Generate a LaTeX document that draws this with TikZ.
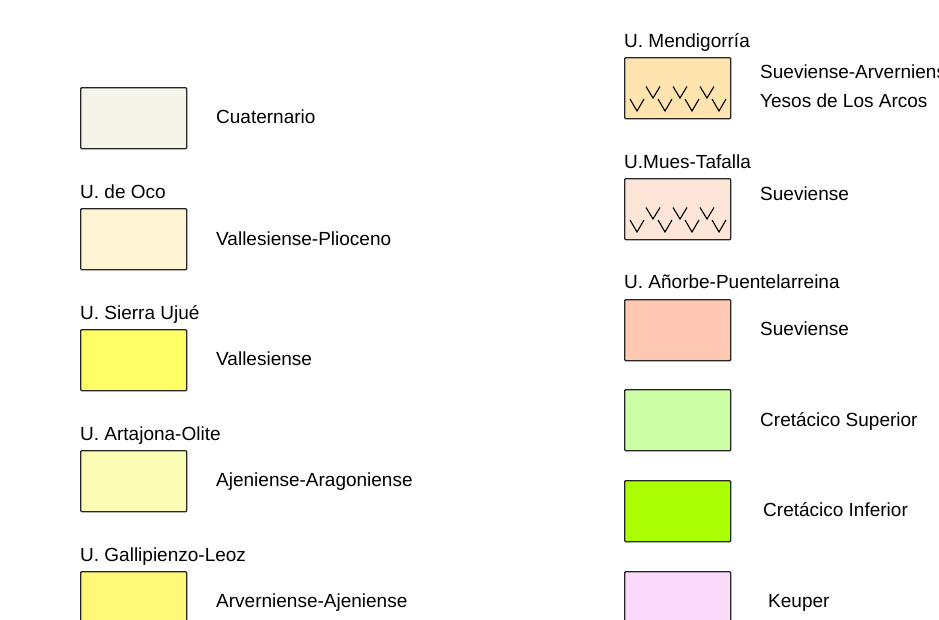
\documentclass[tikz,border=0pt]{standalone}
\usepackage{fontspec}
\setmainfont{Liberation Sans}
\definecolor{cQua}{HTML}{F4F5E8}
\definecolor{cOco}{HTML}{FFF5D5}
\definecolor{cUju}{HTML}{FFFF66}
\definecolor{cArt}{HTML}{FCFDB4}
\definecolor{cGal}{HTML}{FFF878}
\definecolor{cMen}{HTML}{FFE4B0}
\definecolor{cMue}{HTML}{FDE6D8}
\definecolor{cAno}{HTML}{FFC8B2}
\definecolor{cCrS}{HTML}{CCFFA6}
\definecolor{cCrI}{HTML}{AAFF00}
\definecolor{cKeu}{HTML}{FCDAFC}
\tikzset{
  legbox/.style={draw=black!85, line width=1.4pt, rounded corners=1pt, minimum width=106pt, minimum height=61pt, inner sep=0pt, anchor=north west},
  legtxt/.style={anchor=base west, inner sep=0pt, font=\fontsize{19}{22}\selectfont},
  vline/.style={line width=1.1pt, black}
}
\newcommand{\gyps}[2]{%
  \foreach \cx in {653,680,707}{\draw[vline] (\cx-7,#2+29.5) -- (\cx,#2+41) -- (\cx+7,#2+29.5);}
  \foreach \cx in {637,665,692,719}{\draw[vline] (\cx-7,#2+42) -- (\cx,#2+54) -- (\cx+7,#2+42);}
}
\begin{document}
\begin{tikzpicture}[x=1pt,y=-1pt]
\useasboundingbox (0,0) rectangle (939,619);
\clip (0,0) rectangle (939,619);
% left column
\node[legbox, fill=cQua] (b1) at (80,87) {};
\node[legtxt] (t1) at (216,123) {Cuaternario};
\node[legtxt] (l2) at (80,198) {U. de Oco};
\node[legbox, fill=cOco] (b2) at (80,208) {};
\node[legtxt] (t2) at (216,245) {Vallesiense-Plioceno};
\node[legtxt] (l3) at (80,319) {U. Sierra Ujué};
\node[legbox, fill=cUju] (b3) at (80,329) {};
\node[legtxt] (t3) at (216,365) {Vallesiense};
\node[legtxt] (l4) at (80,440) {U. Artajona-Olite};
\node[legbox, fill=cArt] (b4) at (80,450) {};
\node[legtxt] (t4) at (216,486) {Ajeniense-Aragoniense};
\node[legtxt] (l5) at (80,561) {U. Gallipienzo-Leoz};
\node[legbox, fill=cGal] (b5) at (80,571) {};
\node[legtxt] (t5) at (216,607) {Arverniense-Ajeniense};
% right column
\node[legtxt] (r1) at (624,47) {U. Mendigorría};
\node[legbox, fill=cMen] (c1) at (624,57) {};
\gyps{624}{57}
\node[legtxt] (s1a) at (760,78) {Sueviense-Arverniense};
\node[legtxt] (s1b) at (760,107) {Yesos de Los Arcos};
\node[legtxt] (r2) at (624,168) {U.Mues-Tafalla};
\node[legbox, fill=cMue] (c2) at (624,178) {};
\gyps{624}{178}
\node[legtxt] (s2) at (760,200) {Sueviense};
\node[legtxt] (r3) at (624,288) {U. Añorbe-Puentelarreina};
\node[legbox, fill=cAno] (c3) at (624,299) {};
\node[legtxt] (s3) at (760,335) {Sueviense};
\node[legbox, fill=cCrS] (c4) at (624,389) {};
\node[legtxt] (s4) at (760,426) {Cretácico Superior};
\node[legbox, fill=cCrI] (c5) at (624,480) {};
\node[legtxt] (s5) at (763,516) {Cretácico Inferior};
\node[legbox, fill=cKeu] (c6) at (624,571) {};
\node[legtxt] (s6) at (768,607) {Keuper};
\end{tikzpicture}
\end{document}
